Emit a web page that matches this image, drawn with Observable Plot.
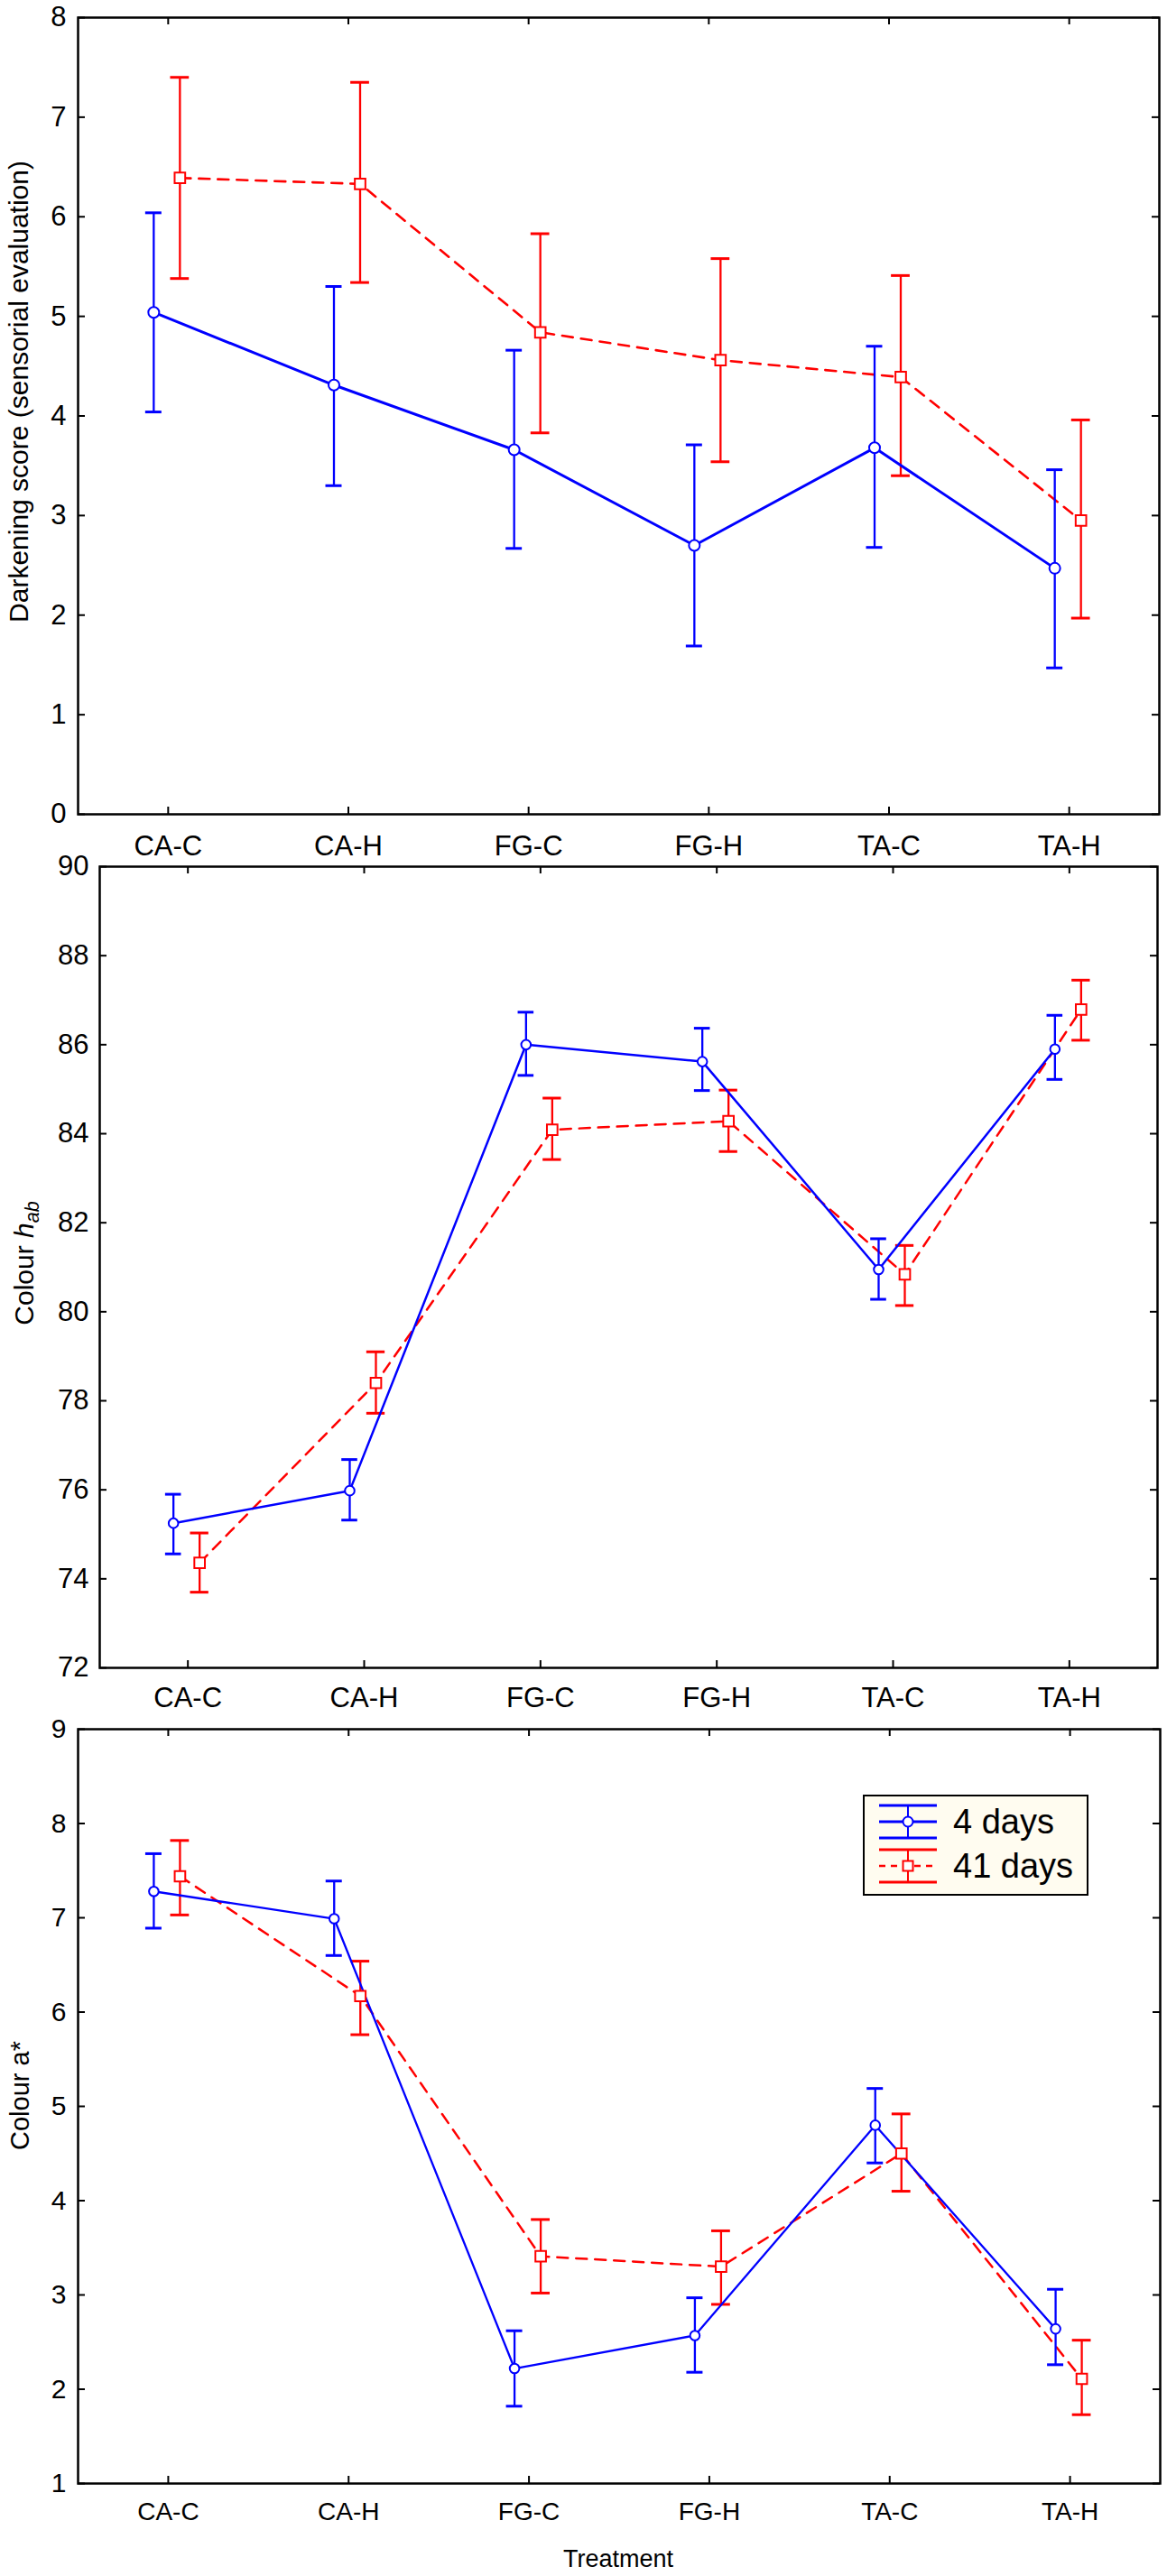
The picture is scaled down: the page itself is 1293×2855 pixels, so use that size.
<!DOCTYPE html>
<html>
<head>
<meta charset="utf-8">
<script src="https://cdn.jsdelivr.net/npm/d3@7"></script>
<script src="https://cdn.jsdelivr.net/npm/@observablehq/plot@0.6"></script>
<style>
  html, body { margin: 0; padding: 0; background: #fff; }
  #root { position: relative; width: 1293px; height: 2855px; font-family: "Liberation Sans", Arial, Helvetica, sans-serif; color: #000; overflow: hidden; }
  .panel { position: absolute; left: 0; }
  .panel svg { overflow: visible; }
  .ylab { position: absolute; left: 0; top: 0; white-space: nowrap; line-height: 1; transform-origin: 50% 50%; }
  .ylab sub { font-size: 0.72em; vertical-align: -0.28em; line-height: 0; }
  .xlab { position: absolute; white-space: nowrap; line-height: 1; transform: translate(-50%, -50%); }
  .legend { position: absolute; box-sizing: border-box; border: 2.5px solid #000; background: #fffcf0; }
</style>
</head>
<body>
<div id="root"></div>
<script>
// ---------- data ----------
const categories = ["CA-C", "CA-H", "FG-C", "FG-H", "TA-C", "TA-H"];
const seriesNames = ["4 days", "41 days"];

// Darkening score (sensorial evaluation)
const dark4Mean  = [5.04, 4.31, 3.66, 2.70, 3.68, 2.47];
const dark4Lo    = [4.04, 3.30, 2.67, 1.69, 2.68, 1.47];
const dark4Hi    = [6.04, 5.30, 4.66, 3.71, 4.70, 3.46];
const dark41Mean = [6.39, 6.33, 4.84, 4.56, 4.39, 2.95];
const dark41Lo   = [5.38, 5.34, 3.83, 3.54, 3.40, 1.97];
const dark41Hi   = [7.40, 7.35, 5.83, 5.58, 5.41, 3.96];
const darkTicks  = [0, 1, 2, 3, 4, 5, 6, 7, 8];

// Colour h_ab
const hab4Mean  = [75.25, 75.98, 86.00, 85.62, 80.95, 85.90];
const hab4Lo    = [74.56, 75.32, 85.31, 84.97, 80.28, 85.22];
const hab4Hi    = [75.90, 76.68, 86.73, 86.37, 81.64, 86.66];
const hab41Mean = [74.36, 78.40, 84.09, 84.28, 80.84, 86.79];
const hab41Lo   = [73.70, 77.72, 83.42, 83.60, 80.14, 86.10];
const hab41Hi   = [75.03, 79.10, 84.80, 84.98, 81.49, 87.45];
const habTicks  = [72, 74, 76, 78, 80, 82, 84, 86, 88, 90];

// Colour a*
const a4Mean  = [7.28, 6.99, 2.22, 2.57, 4.80, 2.64];
const a4Lo    = [6.89, 6.60, 1.82, 2.18, 4.40, 2.26];
const a4Hi    = [7.68, 7.39, 2.62, 2.97, 5.19, 3.06];
const a41Mean = [7.44, 6.17, 3.41, 3.30, 4.50, 2.11];
const a41Lo   = [7.03, 5.76, 3.02, 2.90, 4.10, 1.73];
const a41Hi   = [7.82, 6.54, 3.80, 3.68, 4.92, 2.52];
const aTicks  = [1, 2, 3, 4, 5, 6, 7, 8, 9];

// ---------- drawing ----------
const BLUE = "#0000ff", RED = "#ff0000";
const FONT = '"Liberation Sans", Arial, Helvetica, sans-serif';
const idx = categories.map((_, i) => i);
const rows = (m, lo, hi) => categories.map((c, i) => ({i, c, m: m[i], lo: lo[i], hi: hi[i]}));

function seriesMarks(d, color, dx, capW, lw, dash) {
  return [
    Plot.ruleX(d, {x: "i", y1: "lo", y2: "hi", stroke: color, strokeWidth: 2.3, dx}),
    Plot.ruleY(d, {x1: q => q.i - capW, x2: q => q.i + capW, y: "hi", stroke: color, strokeWidth: 3, dx}),
    Plot.ruleY(d, {x1: q => q.i - capW, x2: q => q.i + capW, y: "lo", stroke: color, strokeWidth: 3, dx}),
    Plot.line(d, {x: "i", y: "m", stroke: color, strokeWidth: lw, strokeDasharray: dash, dx})
  ];
}

function panel(cfg) {
  const W = 1293;
  const {height, mt, mb, ml, mr, yDomain, yTicks, d4, d41, fsX, fsY, padX, padY, lw4, lw41, rC, rS} = cfg;
  const plotW = W - ml - mr, plotH = height - mt - mb, tk = 8;
  return Plot.plot({
    width: W, height,
    marginTop: mt, marginBottom: mb, marginLeft: ml, marginRight: mr,
    style: {fontFamily: FONT, background: "transparent", color: "#000", overflow: "visible"},
    x: {type: "linear", domain: [-0.5, 5.5]},
    y: {domain: yDomain},
    marks: [
      Plot.axisX(idx, {anchor: "bottom", tickFormat: i => categories[i], tickSize: 0, tickPadding: padX, fontSize: fsX, label: null}),
      Plot.axisY(yTicks, {anchor: "left", tickFormat: v => String(v), tickSize: 0, tickPadding: padY, fontSize: fsY, label: null}),
      Plot.tickX(idx, {x: d => d, insetTop: plotH - tk, stroke: "#000", strokeWidth: 2}),
      Plot.tickX(idx, {x: d => d, insetBottom: plotH - tk, stroke: "#000", strokeWidth: 2}),
      Plot.tickY(yTicks, {y: d => d, insetRight: plotW - tk, stroke: "#000", strokeWidth: 2}),
      Plot.tickY(yTicks, {y: d => d, insetLeft: plotW - tk, stroke: "#000", strokeWidth: 2}),
      ...seriesMarks(d41, RED, 13, 0.052, lw41, "12,9"),
      ...seriesMarks(d4, BLUE, -16, 0.045, lw4, null),
      Plot.dot(d41, {x: "i", y: "m", symbol: "square", r: rS, fill: "white", stroke: RED, strokeWidth: 2, dx: 13}),
      Plot.dot(d4, {x: "i", y: "m", symbol: "circle", r: rC, fill: "white", stroke: BLUE, strokeWidth: 2, dx: -16}),
      Plot.frame({stroke: "#000", strokeWidth: 2.5})
    ]
  });
}

const root = document.getElementById("root");
function place(node, top) {
  const div = document.createElement("div");
  div.className = "panel";
  div.style.top = top + "px";
  div.appendChild(node);
  root.appendChild(div);
}

place(panel({
  height: 960, mt: 16, mb: 61, ml: 86, mr: 9,
  yDomain: [0, 8], yTicks: darkTicks,
  d4: rows(dark4Mean, dark4Lo, dark4Hi), d41: rows(dark41Mean, dark41Lo, dark41Hi),
  fsX: 31, fsY: 31, padX: 23, padY: 13, lw4: 3, lw41: 2.6, rC: 6, rS: 6.6
}), 3);

place(panel({
  height: 960, mt: 16, mb: 56, ml: 110, mr: 11,
  yDomain: [72, 90], yTicks: habTicks,
  d4: rows(hab4Mean, hab4Lo, hab4Hi), d41: rows(hab41Mean, hab41Lo, hab41Hi),
  fsX: 31, fsY: 31, padX: 21, padY: 12, lw4: 2.5, lw41: 2.5, rC: 5.3, rS: 6.6
}), 944);

place(panel({
  height: 955, mt: 16, mb: 103, ml: 86, mr: 8,
  yDomain: [1, 9], yTicks: aTicks,
  d4: rows(a4Mean, a4Lo, a4Hi), d41: rows(a41Mean, a41Lo, a41Hi),
  fsX: 28, fsY: 30, padX: 21, padY: 13, lw4: 2.3, lw41: 2.5, rC: 5.3, rS: 6.6
}), 1900);

// axis titles
function ylab(html, cx, cy, fs) {
  const el = document.createElement("div");
  el.className = "ylab";
  el.style.fontSize = fs + "px";
  el.innerHTML = html;
  root.appendChild(el);
  const w = el.offsetWidth, h = el.offsetHeight;
  el.style.left = (cx - w / 2) + "px";
  el.style.top = (cy - h / 2) + "px";
  el.style.transform = "rotate(-90deg)";
}
ylab("Darkening score (sensorial evaluation)", 21, 434, 30);
ylab('Colour <i>h</i><sub><i>ab</i></sub>', 26, 1400, 30);
ylab("Colour a*", 22, 2322, 29);

const xl = document.createElement("div");
xl.className = "xlab";
xl.style.left = "685px"; xl.style.top = "2836px"; xl.style.fontSize = "27px";
xl.textContent = "Treatment";
root.appendChild(xl);

// legend
const lg = document.createElement("div");
lg.className = "legend";
lg.style.left = "956px"; lg.style.top = "1989px"; lg.style.width = "250px"; lg.style.height = "112px";
const ns = "http://www.w3.org/2000/svg";
const svg = document.createElementNS(ns, "svg");
svg.setAttribute("width", "245"); svg.setAttribute("height", "107");
svg.style.position = "absolute"; svg.style.left = "0"; svg.style.top = "0";
function el(tag, attrs) { const e = document.createElementNS(ns, tag); for (const k in attrs) e.setAttribute(k, attrs[k]); svg.appendChild(e); return e; }
const entries = [
  {name: seriesNames[0], color: BLUE, y: 28, dash: null, sym: "circle"},
  {name: seriesNames[1], color: RED, y: 77, dash: "7,6", sym: "square"}
];
for (const e of entries) {
  el("line", {x1: 16, x2: 80, y1: e.y - 18, y2: e.y - 18, stroke: e.color, "stroke-width": 3});
  el("line", {x1: 16, x2: 80, y1: e.y + 18, y2: e.y + 18, stroke: e.color, "stroke-width": 3});
  el("line", {x1: 48, x2: 48, y1: e.y - 18, y2: e.y + 18, stroke: e.color, "stroke-width": 2});
  const mid = el("line", {x1: 16, x2: 80, y1: e.y, y2: e.y, stroke: e.color, "stroke-width": e.dash ? 2.5 : 3});
  if (e.dash) mid.setAttribute("stroke-dasharray", e.dash);
  if (e.sym === "circle") el("circle", {cx: 48, cy: e.y, r: 5.5, fill: "white", stroke: e.color, "stroke-width": 2});
  else el("rect", {x: 42.5, y: e.y - 5.5, width: 11, height: 11, fill: "white", stroke: e.color, "stroke-width": 2});
  const t = el("text", {x: 98, y: e.y + 13, "font-size": 38, "font-family": FONT, fill: "#000"});
  t.textContent = e.name;
}
lg.appendChild(svg);
root.appendChild(lg);
</script>
</body>
</html>
